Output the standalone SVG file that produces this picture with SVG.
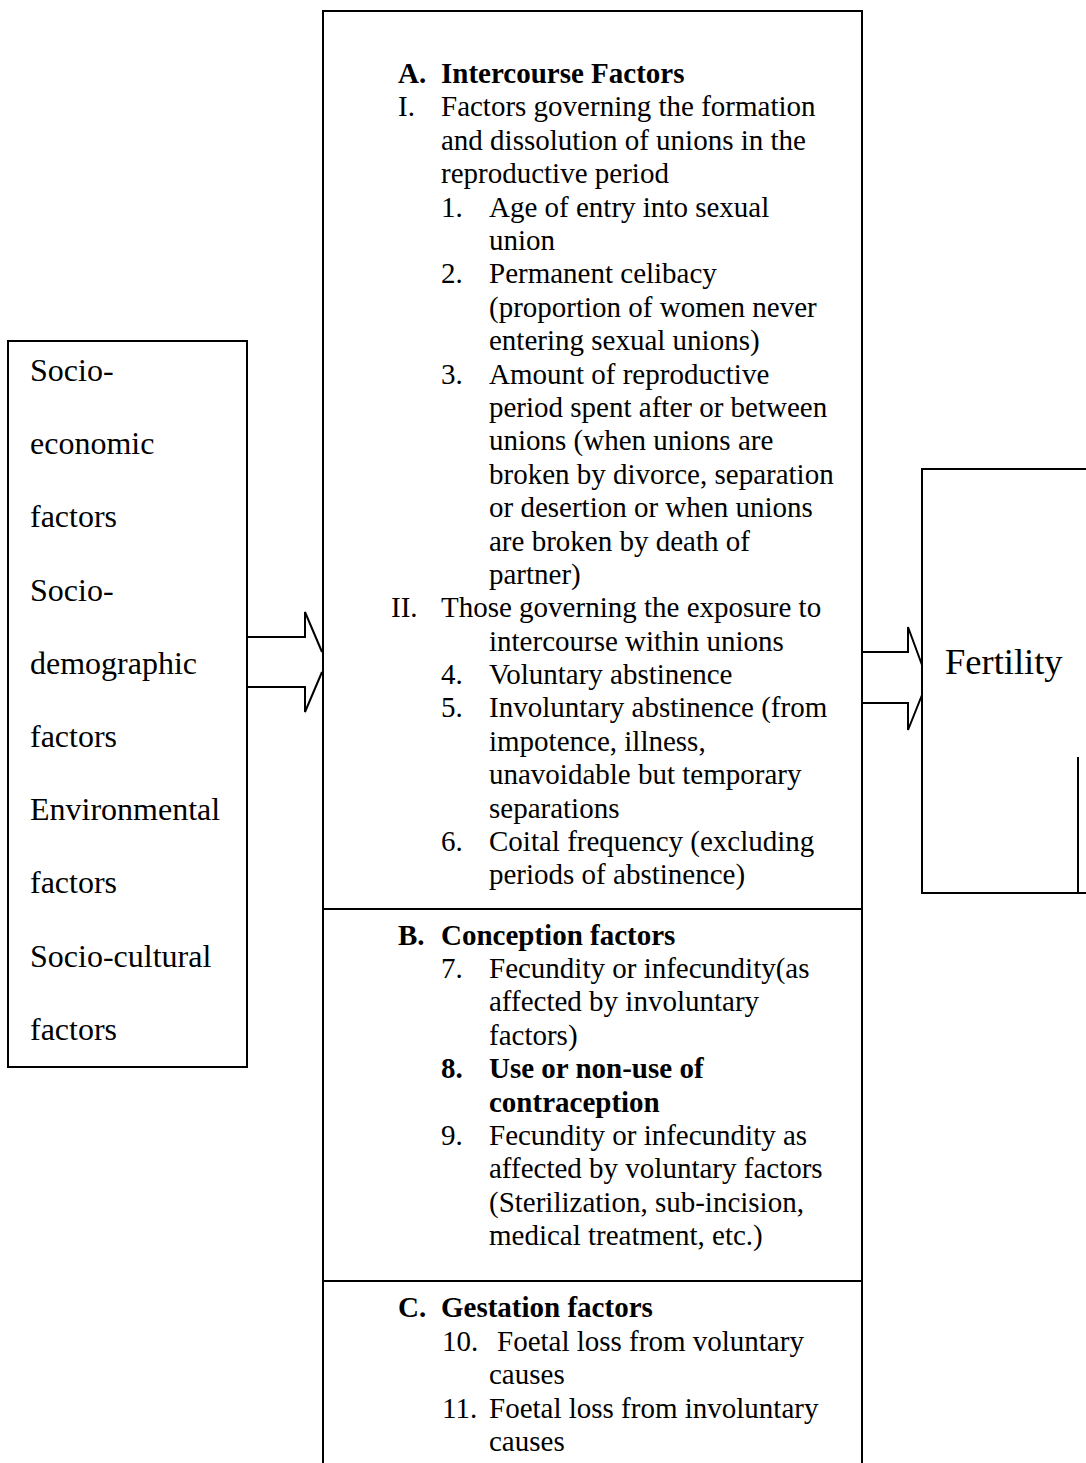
<svg xmlns="http://www.w3.org/2000/svg" width="1086" height="1463" viewBox="0 0 1086 1463">
  <style>
    .box { fill: none; stroke: #000; stroke-width: 2; }
    .conn { fill: none; stroke: #000; stroke-width: 2; stroke-linejoin: miter; }
    text { font-family: "Liberation Serif", "Times New Roman", serif; fill: #000; }
    .mid { font-size: 29px; }
    .b { font-weight: bold; }
    .left { font-size: 32px; }
    .big { font-size: 36.5px; }
  </style>
  <rect width="1086" height="1463" fill="#fff"/>

  <!-- left: background factors -->
  <g id="background-factors">
    <rect class="box" x="8" y="341" width="239" height="726"/>
    <g class="left">
      <text x="30" y="381">Socio-</text>
      <text x="30" y="454">economic</text>
      <text x="30" y="527">factors</text>
      <text x="30" y="601">Socio-</text>
      <text x="30" y="674">demographic</text>
      <text x="30" y="747">factors</text>
      <text x="30" y="820">Environmental</text>
      <text x="30" y="893">factors</text>
      <text x="30" y="967">Socio-cultural</text>
      <text x="30" y="1040">factors</text>
    </g>
  </g>

  <!-- centre: intermediate variables -->
  <g id="intermediate-variables">
    <path class="box" d="M323 1463 V11 H862 V1463"/>
    <line class="box" x1="323" y1="909" x2="862" y2="909"/>
    <line class="box" x1="323" y1="1281" x2="862" y2="1281"/>
    <g class="mid">
      <text class="b" x="398" y="83">A.</text>
      <text class="b" x="441" y="83">Intercourse Factors</text>
      <text x="398" y="116">I.</text>
      <text x="441" y="116">Factors governing the formation</text>
      <text x="441" y="150">and dissolution of unions in the</text>
      <text x="441" y="183">reproductive period</text>
      <text x="441" y="217">1.</text>
      <text x="489" y="217">Age of entry into sexual</text>
      <text x="489" y="250">union</text>
      <text x="441" y="283">2.</text>
      <text x="489" y="283">Permanent celibacy</text>
      <text x="489" y="317">(proportion of women never</text>
      <text x="489" y="350">entering sexual unions)</text>
      <text x="441" y="384">3.</text>
      <text x="489" y="384">Amount of reproductive</text>
      <text x="489" y="417">period spent after or between</text>
      <text x="489" y="450">unions (when unions are</text>
      <text x="489" y="484">broken by divorce, separation</text>
      <text x="489" y="517">or desertion or when unions</text>
      <text x="489" y="551">are broken by death of</text>
      <text x="489" y="584">partner)</text>
      <text x="391" y="617">II.</text>
      <text x="441" y="617">Those governing the exposure to</text>
      <text x="489" y="651">intercourse within unions</text>
      <text x="441" y="684">4.</text>
      <text x="489" y="684">Voluntary abstinence</text>
      <text x="441" y="717">5.</text>
      <text x="489" y="717">Involuntary abstinence (from</text>
      <text x="489" y="751">impotence, illness,</text>
      <text x="489" y="784">unavoidable but temporary</text>
      <text x="489" y="818">separations</text>
      <text x="441" y="851">6.</text>
      <text x="489" y="851">Coital frequency (excluding</text>
      <text x="489" y="884">periods of abstinence)</text>

      <text class="b" x="398" y="945">B.</text>
      <text class="b" x="441" y="945">Conception factors</text>
      <text x="441" y="978">7.</text>
      <text x="489" y="978">Fecundity or infecundity(as</text>
      <text x="489" y="1011">affected by involuntary</text>
      <text x="489" y="1045">factors)</text>
      <text class="b" x="441" y="1078">8.</text>
      <text class="b" x="489" y="1078">Use or non-use of</text>
      <text class="b" x="489" y="1112">contraception</text>
      <text x="441" y="1145">9.</text>
      <text x="489" y="1145">Fecundity or infecundity as</text>
      <text x="489" y="1178">affected by voluntary factors</text>
      <text x="489" y="1212">(Sterilization, sub-incision,</text>
      <text x="489" y="1245">medical treatment, etc.)</text>

      <text class="b" x="398" y="1317">C.</text>
      <text class="b" x="441" y="1317">Gestation factors</text>
      <text x="442" y="1351">10.</text>
      <text x="497" y="1351">Foetal loss from voluntary</text>
      <text x="489" y="1384">causes</text>
      <text x="442" y="1418">11.</text>
      <text x="489" y="1418">Foetal loss from involuntary</text>
      <text x="489" y="1451">causes</text>
    </g>
  </g>

  <!-- right: outcome -->
  <g id="fertility">
    <path class="box" d="M1086 469 H922 V893 H1086"/>
    <line class="box" x1="1078" y1="757" x2="1078" y2="893"/>
    <text class="big" x="945" y="674">Fertility</text>
  </g>

  <!-- open block arrows between the boxes -->
  <g id="connectors">
    <path class="conn" d="M247 637 H305 V612 L322 652"/>
    <path class="conn" d="M247 687 H305 V712 L322 672"/>
    <path class="conn" d="M862 652 H908 V627 L922 665"/>
    <path class="conn" d="M862 703 H908 V730 L922 695"/>
  </g>
</svg>
